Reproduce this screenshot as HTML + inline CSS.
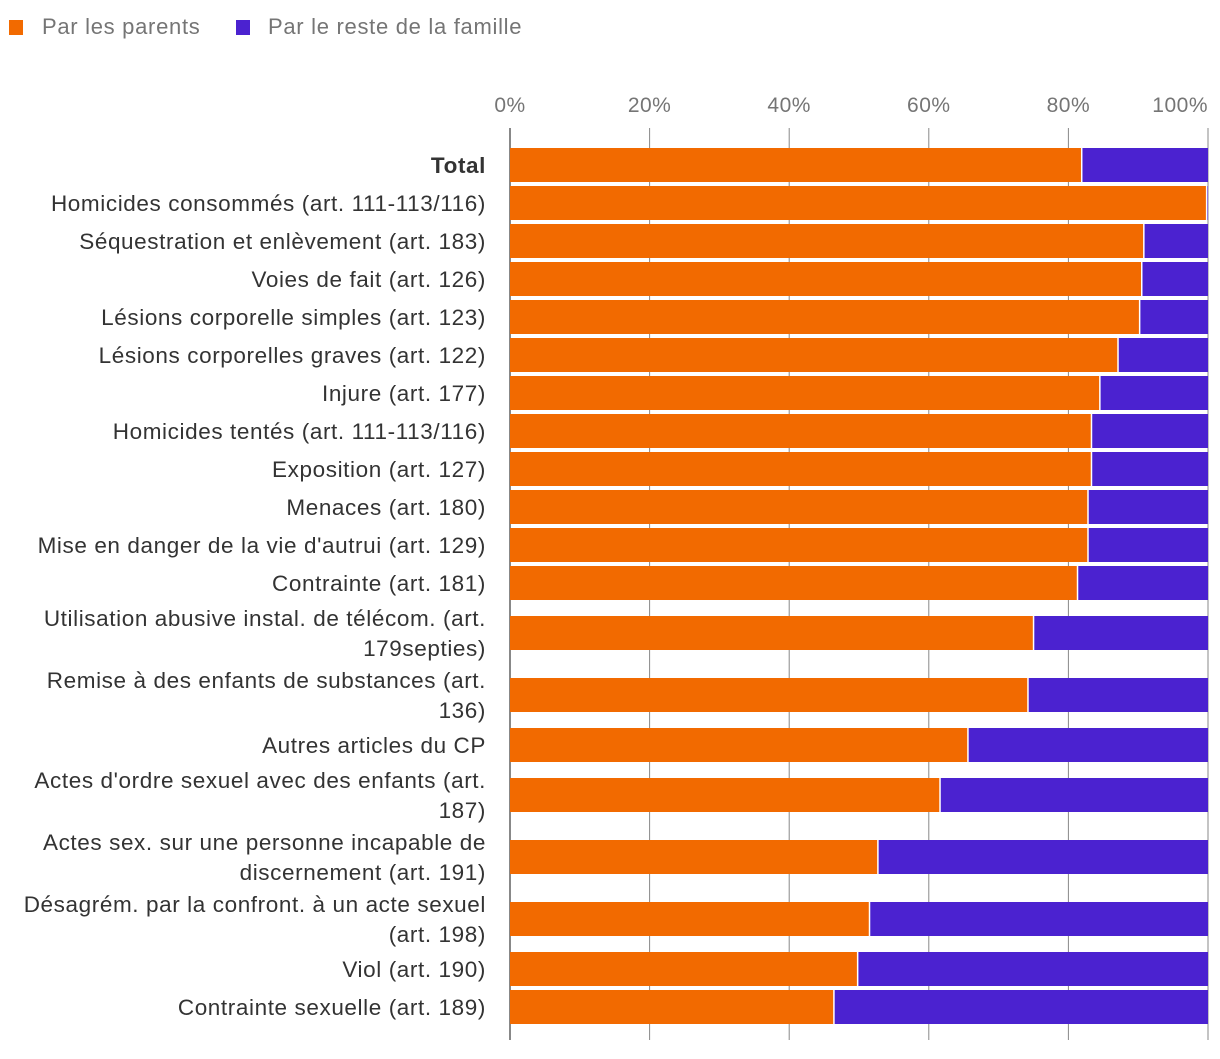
<!DOCTYPE html>
<html><head><meta charset="utf-8"><style>
body{margin:0;background:#fff;width:1220px;height:1054px;overflow:hidden;font-family:"Liberation Sans",sans-serif}
</style></head><body>
<svg id="chart" width="1220" height="1054" xmlns="http://www.w3.org/2000/svg">
<g>
<rect x="9" y="20" width="14" height="15" fill="#f26a00"/>
<text x="42" y="34" font-size="22" letter-spacing="0.7" fill="#757575">Par les parents</text>
<rect x="236" y="20" width="14" height="15" fill="#4b22d0"/>
<text x="268" y="34" font-size="22" letter-spacing="0.7" fill="#757575">Par le reste de la famille</text>
</g>
<g id="grid"></g><g id="bars"></g><g id="labels"></g>
</svg>
<script>
const categories=[["Total"],["Homicides consommés (art. 111-113/116)"],["Séquestration et enlèvement (art. 183)"],["Voies de fait (art. 126)"],["Lésions corporelle simples (art. 123)"],["Lésions corporelles graves (art. 122)"],["Injure (art. 177)"],["Homicides tentés (art. 111-113/116)"],["Exposition (art. 127)"],["Menaces (art. 180)"],["Mise en danger de la vie d'autrui (art. 129)"],["Contrainte (art. 181)"],["Utilisation abusive instal. de télécom. (art.","179septies)"],["Remise à des enfants de substances (art.","136)"],["Autres articles du CP"],["Actes d'ordre sexuel avec des enfants (art.","187)"],["Actes sex. sur une personne incapable de","discernement (art. 191)"],["Désagrém. par la confront. à un acte sexuel","(art. 198)"],["Viol (art. 190)"],["Contrainte sexuelle (art. 189)"]];
const parents=[81.8,99.7,90.7,90.4,90.1,87.0,84.4,83.2,83.2,82.7,82.7,81.2,74.9,74.1,65.5,61.5,52.6,51.4,49.7,46.3];
const ticks=[0,20,40,60,80,100];
const NS="http://www.w3.org/2000/svg";
const X0=510,X1=1208;
const x=v=>X0+(X1-X0)*v/100;
function mk(tag,attrs,parent){const e=document.createElementNS(NS,tag);for(const k in attrs)e.setAttribute(k,attrs[k]);document.getElementById(parent).appendChild(e);return e;}
ticks.forEach(t=>{
  const l=mk("line",{x1:x(t),x2:x(t),y1:128,y2:1040,stroke:"#888","stroke-width":t===0?2:1},"grid");
  
  
  const tx=mk("text",{x:x(t),y:112,"font-size":21,"letter-spacing":0.5,fill:"#757575","text-anchor":t===100?"end":"middle"},"grid");
  tx.textContent=t+"%";
  
  
});
let c=165;
categories.forEach((cat,i)=>{
  const half=cat.length>1?31:19;
  if(i>0){const ph=categories[i-1].length>1?31:19;c+=ph+half;}
  const r1=mk("rect",{x:x(0),y:c-17,width:x(parents[i])-x(0),height:34,fill:"#f26a00"},"bars");
  
  
  const r2=mk("rect",{x:x(parents[i])+1.5,y:c-17,width:Math.max(0,x(100)-x(parents[i])-1.5),height:34,fill:"#4b22d0"},"bars");
  
  
  cat.forEach((line,j)=>{
    const y=c+8+(cat.length>1?(j===0?-15:15):0);
    const t=mk("text",{x:486,y:y,"font-size":22.5,"letter-spacing":0.6,fill:"#333","text-anchor":"end","font-weight":i===0?"bold":"normal"},"labels");
    t.textContent=line;
    
    
  });
});
</script>
</body></html>
